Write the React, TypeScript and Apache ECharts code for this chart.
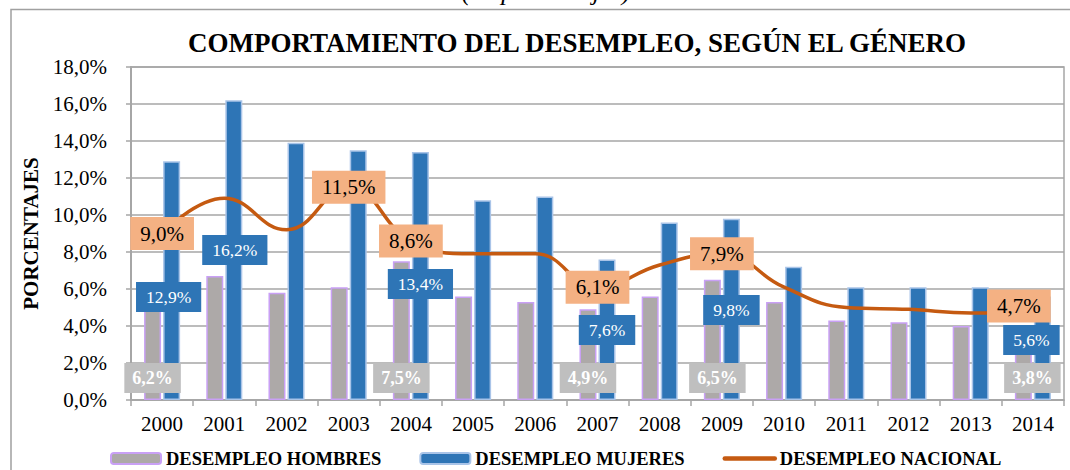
import React, { useEffect, useRef } from 'react';
import * as echarts from 'echarts';

const years = ['2000', '2001', '2002', '2003', '2004', '2005', '2006', '2007', '2008', '2009', '2010', '2011', '2012', '2013', '2014'];
const hombres = [6.2, 6.7, 5.8, 6.1, 7.5, 5.6, 5.3, 4.9, 5.6, 6.5, 5.3, 4.3, 4.2, 4.0, 3.8];
const mujeres = [12.9, 16.2, 13.9, 13.5, 13.4, 10.8, 11.0, 7.6, 9.6, 9.8, 7.2, 6.1, 6.1, 6.1, 5.6];
const nacional = [9.0, 10.9, 9.2, 11.5, 8.6, 7.9, 7.9, 6.1, 7.3, 7.9, 6.1, 5.0, 4.9, 4.7, 4.7];

const hombresLabelYears = ['2000', '2004', '2007', '2009', '2014'];
const mujeresLabelYears = ['2000', '2001', '2004', '2007', '2009', '2014'];
const nacionalLabelYears = ['2000', '2003', '2004', '2007', '2009', '2014'];

const yMin = 0;
const yMax = 18;
const yStep = 2;

const titleText = 'COMPORTAMIENTO DEL DESEMPLEO, SEGÚN EL GÉNERO';
const subtitleText = '(en porcentajes)';
const yName = 'PORCENTAJES';
const names = ['DESEMPLEO HOMBRES', 'DESEMPLEO MUJERES', 'DESEMPLEO NACIONAL'];

// label placement (pixels), kept apart from the data
const hombresPlace: Record<string, [number, number]> = {
  '2000': [7, 0], '2004': [7, 0], '2007': [7, 0], '2009': [7, 5], '2014': [7, 9],
};
const mujeresPlace: Record<string, [number, number]> = {
  '2000': [88, -3], '2001': [135, 1], '2004': [101, 0], '2007': [55, 0], '2009': [75, 0], '2014': [45, -11],
};
const nacionalOffset: Record<string, [number, number]> = {
  '2014': [-14, -7],
};

const FONT = '"Liberation Serif", "Times New Roman", serif';
const fmt = (v: number) => v.toFixed(1).replace('.', ',') + '%';

export default function App() {
  const ref = useRef<HTMLDivElement>(null);

  useEffect(() => {
    if (!ref.current) return;
    const chart = echarts.init(ref.current, undefined, { renderer: 'svg' });

    const hData = hombres.map((v, i) => {
      const y = years[i];
      if (hombresLabelYears.includes(y)) {
        const p = hombresPlace[y] || [7, 0];
        return { value: v, label: { show: true, distance: p[0], offset: [p[1], 0] } };
      }
      return v;
    });
    const mData = mujeres.map((v, i) => {
      const y = years[i];
      if (mujeresLabelYears.includes(y)) {
        const p = mujeresPlace[y] || [7, 0];
        return { value: v, label: { show: true, distance: p[0], offset: [p[1], 0] } };
      }
      return v;
    });
    const nLabelData = nacional.map((v, i) => {
      const y = years[i];
      if (nacionalLabelYears.includes(y)) {
        return { value: v, label: { show: true, offset: nacionalOffset[y] || [0, 0] } };
      }
      return { value: v, label: { show: false } };
    });

    const option: any = {
      animation: false,
      backgroundColor: '#ffffff',
      textStyle: { fontFamily: FONT },
      grid: { left: 131, right: 6, top: 67, bottom: 70, show: true, borderColor: '#A6A6A6', borderWidth: 1.5 },
      graphic: [
        {
          type: 'rect', silent: true, z: -10,
          shape: { x: 11, y: 9.5, width: 1200, height: 600 },
          style: { fill: 'none', stroke: '#A0A0A0', lineWidth: 1.5 },
        },
        {
          type: 'text', silent: true, x: 546, y: -9,
          style: { text: subtitleText, font: `italic 26px ${FONT}`, fill: '#000', align: 'center', verticalAlign: 'middle' },
        },
        {
          type: 'text', silent: true, x: 577, y: 43,
          style: { text: titleText, font: `bold 27px ${FONT}`, fill: '#000', align: 'center', verticalAlign: 'middle' },
        },
      ],
      legend: {
        data: [
          { name: names[0] },
          { name: names[1] },
          { name: names[2], itemStyle: { opacity: 0 }, lineStyle: { width: 4.5, cap: 'round' } },
        ],
        left: 105,
        top: 444,
        itemWidth: 50,
        itemHeight: 11,
        itemGap: 38,
        textStyle: { fontFamily: FONT, fontWeight: 'bold', fontSize: 18.5, color: '#000' },
      },
      xAxis: {
        type: 'category',
        data: years,
        boundaryGap: true,
        axisLine: { show: true, lineStyle: { color: '#A6A6A6', width: 1.5 } },
        axisTick: { show: true, length: 6, lineStyle: { color: '#A6A6A6', width: 1.5 } },
        axisLabel: { color: '#000', fontSize: 21, fontFamily: FONT, margin: 13 },
      },
      yAxis: {
        type: 'value',
        min: yMin,
        max: yMax,
        interval: yStep,
        name: yName,
        nameLocation: 'middle',
        nameGap: 88,
        nameRotate: 90,
        nameTextStyle: { fontFamily: FONT, fontWeight: 'bold', fontSize: 21, color: '#000' },
        axisLine: { show: true, lineStyle: { color: '#A6A6A6', width: 2 } },
        axisTick: { show: true, length: 5, lineStyle: { color: '#A6A6A6', width: 1.5 } },
        axisLabel: { color: '#000', fontSize: 21, fontFamily: FONT, margin: 24, formatter: (v: number) => fmt(v) },
        splitLine: { show: true, lineStyle: { color: '#A6A6A6', width: 1.5 } },
      },
      series: [
        {
          name: names[0],
          type: 'bar',
          barWidth: 17,
          barGap: '12%',
          itemStyle: { color: '#ADA9A8', borderColor: '#C9A0F5', borderWidth: 1.5 },
          label: {
            show: false, position: 'insideBottom', formatter: (p: any) => fmt(p.value),
            color: '#fff', fontWeight: 'bold', fontSize: 18, fontFamily: FONT, lineHeight: 18,
            backgroundColor: '#BFBFBF', padding: [6, 8],
          },
          data: hData,
        },
        {
          name: names[1],
          type: 'bar',
          barWidth: 17,
          barGap: '12%',
          itemStyle: { color: '#2E75B6', borderColor: '#A9C4E8', borderWidth: 1.5 },
          label: {
            show: false, position: 'insideBottom', formatter: (p: any) => fmt(p.value),
            color: '#fff', fontSize: 17.5, fontFamily: FONT, lineHeight: 18,
            backgroundColor: '#2E75B6', padding: [6, 10],
          },
          data: mData,
        },
        {
          name: names[2],
          type: 'line',
          smooth: 0.45,
          symbol: 'none',
          lineStyle: { color: '#C55A11', width: 3.5, cap: 'round' },
          itemStyle: { color: '#C55A11' },
          data: nacional,
          z: 3,
        },
        {
          name: 'nacional-etiquetas',
          type: 'scatter',
          symbolSize: 0,
          silent: true,
          itemStyle: { color: '#C55A11', opacity: 1 },
          label: {
            show: false, position: 'inside', formatter: (p: any) => fmt(p.value),
            color: '#000', fontSize: 21, fontFamily: FONT, lineHeight: 21,
            backgroundColor: '#F4B183', padding: [6, 10], opacity: 1,
          },
          data: nLabelData,
          z: 5,
        },
      ],
    };

    chart.setOption(option);
    return () => chart.dispose();
  }, []);

  return <div ref={ref} style={{ position: 'absolute', left: 0, top: 0, width: 1070, height: 470 }} />;
}
